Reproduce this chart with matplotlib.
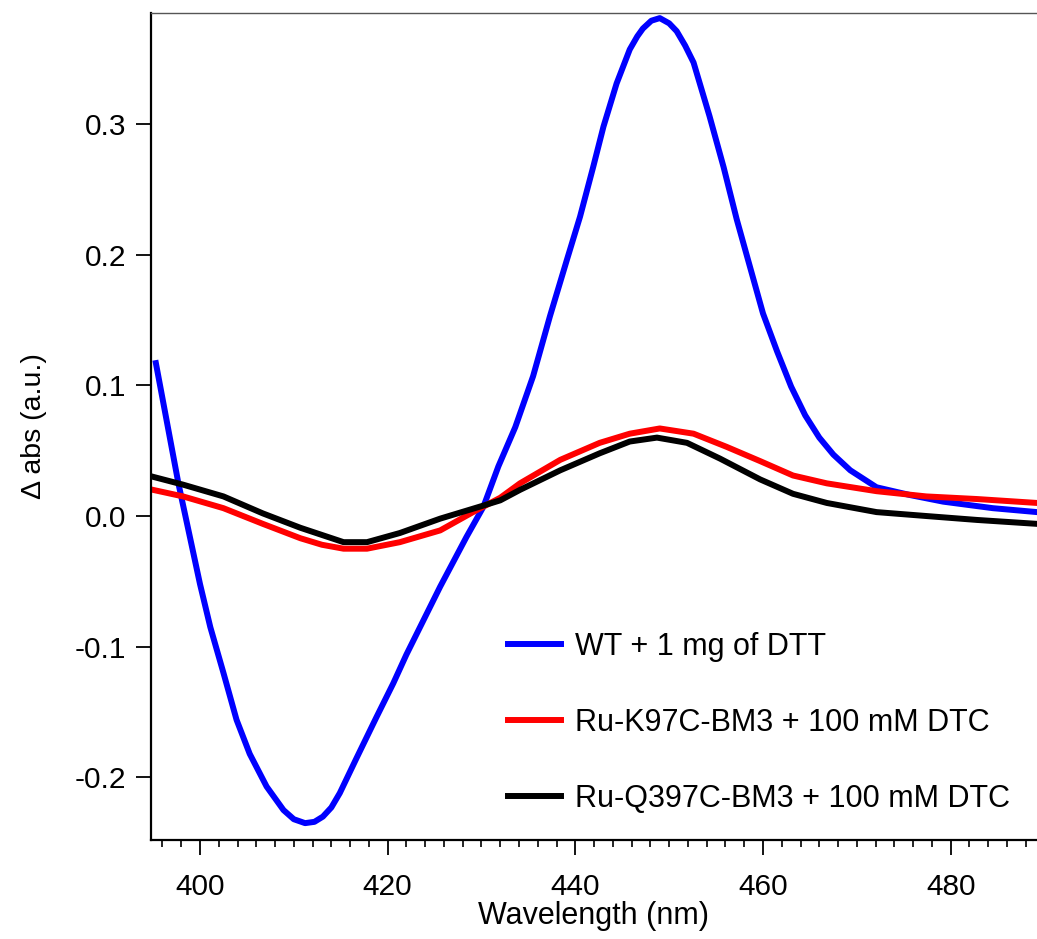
import numpy as np
import matplotlib
matplotlib.use("Agg")
import matplotlib.pyplot as plt
from matplotlib.ticker import MultipleLocator, FormatStrFormatter

plt.rcParams['font.family'] = ['Liberation Sans', 'DejaVu Sans']
plt.rcParams['axes.unicode_minus'] = False

# WT + 1 mg of DTT
wl_wt = [395.3, 397.7, 400.0, 401.1, 402.5, 403.9, 405.3, 407.1, 408.9, 410.0,
         411.2, 412.2, 413.1, 414.0, 414.9, 416.7, 418.8, 420.6, 422.0, 423.8, 425.6,
         428.4, 430.2, 431.8, 433.6, 435.5, 437.3, 439.1, 440.5, 441.9, 443.0,
         444.4, 445.8, 446.6, 447.2, 448.1, 449.0, 450.0, 450.8, 451.7, 452.6,
         454.3, 455.8, 457.2, 458.6, 460.0, 461.5, 463.0, 464.5, 466.0, 467.5,
         469.3, 472.1, 475.7, 479.2, 484.5, 489.2]
abs_wt = [0.117, 0.025, -0.052, -0.085, -0.120, -0.156, -0.182, -0.207, -0.225, -0.232,
          -0.235, -0.234, -0.230, -0.223, -0.212, -0.185, -0.154, -0.128, -0.106, -0.080, -0.054,
          -0.016, 0.007, 0.038, 0.068, 0.107, 0.153, 0.196, 0.229, 0.267, 0.298,
          0.331, 0.357, 0.367, 0.373, 0.379, 0.381, 0.377, 0.371, 0.360, 0.347,
          0.306, 0.267, 0.227, 0.191, 0.155, 0.126, 0.099, 0.077, 0.060, 0.047,
          0.035, 0.022, 0.016, 0.011, 0.006, 0.003]

# Ru-K97C-BM3 + 100 mM DTC
wl_k97 = [395.0, 398.2, 402.5, 406.7, 410.7, 413.0, 415.3, 417.8, 421.3, 425.6,
          429.1, 432.0, 434.1, 438.4, 442.6, 445.8, 449.0, 452.6, 456.1, 459.7,
          463.2, 466.8, 472.1, 477.4, 482.8, 489.2]
abs_k97 = [0.020, 0.015, 0.006, -0.006, -0.017, -0.022, -0.025, -0.025, -0.020, -0.011,
           0.003, 0.014, 0.025, 0.043, 0.056, 0.063, 0.067, 0.063, 0.053, 0.042,
           0.031, 0.025, 0.019, 0.015, 0.013, 0.010]

# Ru-Q397C-BM3 + 100 mM DTC
wl_q397 = [395.0, 398.2, 402.5, 406.7, 410.7, 415.3, 417.8, 421.3, 425.6, 430.2,
           432.0, 434.1, 438.4, 442.6, 445.8, 448.7, 451.9, 455.4, 459.7, 463.2,
           466.8, 472.1, 477.4, 482.8, 489.2]
abs_q397 = [0.030, 0.024, 0.015, 0.002, -0.009, -0.020, -0.020, -0.013, -0.002, 0.008,
            0.012, 0.020, 0.035, 0.048, 0.057, 0.060, 0.056, 0.044, 0.028, 0.017,
            0.010, 0.003, 0.000, -0.003, -0.006]

fig = plt.figure(figsize=(10.37, 9.39), dpi=100)
ax = fig.add_axes([151/1037, 99/939, 886/1037, 827/939])

ax.plot(wl_wt, abs_wt, color='#0000ff', lw=4.3, label='WT + 1 mg of DTT')
ax.plot(wl_k97, abs_k97, color='#ff0000', lw=4.3, label='Ru-K97C-BM3 + 100 mM DTC')
ax.plot(wl_q397, abs_q397, color='black', lw=4.3, label='Ru-Q397C-BM3 + 100 mM DTC')

ax.set_xlim(394.78, 489.2)
ax.set_ylim(-0.2479, 0.3849)

ax.xaxis.set_major_locator(MultipleLocator(20))
ax.xaxis.set_minor_locator(MultipleLocator(2))
ax.yaxis.set_major_locator(MultipleLocator(0.1))
ax.yaxis.set_major_formatter(FormatStrFormatter('%.1f'))

ax.tick_params(axis='both', which='major', direction='out', length=11, width=1.3,
               labelsize=21.5, pad=7)
ax.tick_params(axis='x', which='major', pad=13)
ax.tick_params(axis='x', which='minor', direction='out', length=5, width=1.2)

ax.spines['right'].set_visible(False)
ax.spines['left'].set_linewidth(1.6)
ax.spines['bottom'].set_linewidth(1.6)
ax.spines['top'].set_linewidth(1.0)
ax.spines['top'].set_color('#555555')

ax.set_xlabel('Wavelength (nm)', fontsize=22, labelpad=0)
ax.set_ylabel('\u0394 abs (a.u.)', fontsize=20.5, labelpad=20)

ax.legend(loc='upper left', bbox_to_anchor=(508/1037, 1 - 632/939),
          bbox_transform=fig.transFigure, frameon=False, fontsize=22,
          handlelength=1.75, handletextpad=0.45, labelspacing=1.5, borderpad=0,
          borderaxespad=0)

fig.savefig('out.png', dpi=100)
